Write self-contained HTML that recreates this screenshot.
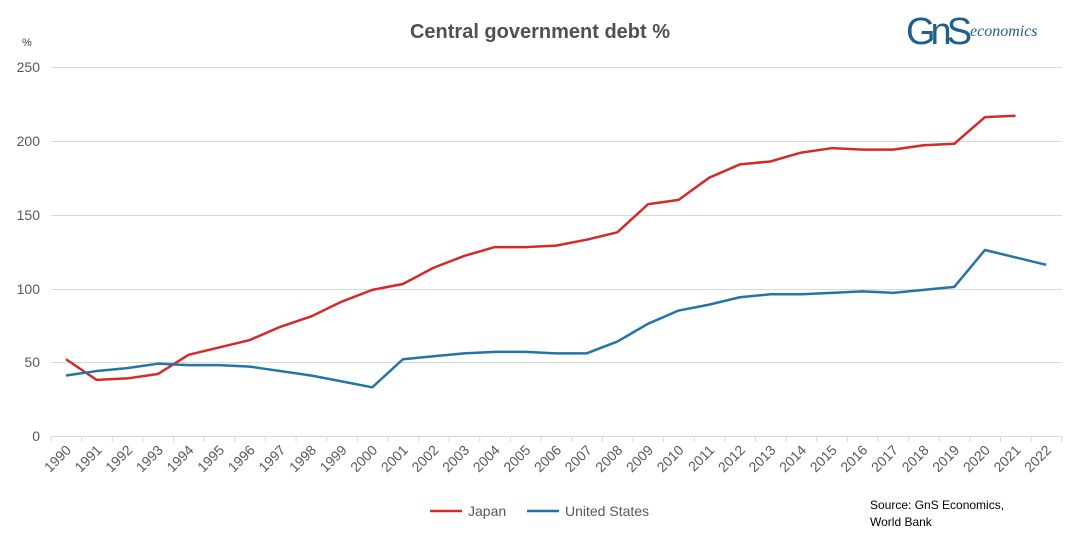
<!DOCTYPE html>
<html><head><meta charset="utf-8"><style>
body{margin:0;background:#fff;}
svg text{font-family:"Liberation Sans",sans-serif;fill:#595959;}
</style></head><body>
<svg width="1080" height="539" xmlns="http://www.w3.org/2000/svg">
<rect width="1080" height="539" fill="#fff"/>
<text x="540" y="38" text-anchor="middle" font-size="20" font-weight="bold" style="fill:#505050">Central government debt %</text>
<text x="22" y="46" font-size="11" style="fill:#404040">%</text>
<text x="906" y="44" font-size="38" style="fill:#1f5f8b;font-family:'Liberation Sans',sans-serif;letter-spacing:-5px">GnS</text>
<text x="970" y="36" font-size="16" font-style="italic" style="fill:#1f5f8b;font-family:'Liberation Serif',serif">economics</text>
<g stroke="#d9d9d9" stroke-width="1">
<line x1="51" x2="1062" y1="67.5" y2="67.5"/>
<line x1="51" x2="1062" y1="141.5" y2="141.5"/>
<line x1="51" x2="1062" y1="215.5" y2="215.5"/>
<line x1="51" x2="1062" y1="289.5" y2="289.5"/>
<line x1="51" x2="1062" y1="362.5" y2="362.5"/>
<line x1="51" x2="1062" y1="436.5" y2="436.5"/>
</g>
<g font-size="14" text-anchor="end">
<text x="40" y="72">250</text><text x="40" y="146">200</text><text x="40" y="220">150</text>
<text x="40" y="294">100</text><text x="40" y="367">50</text><text x="40" y="441">0</text>
</g>
<g id="ticks" stroke="#d9d9d9"></g>
<g id="xl" font-size="14"></g>
<polyline id="jp" fill="none" stroke="#d42a2a" stroke-width="2.5" stroke-linejoin="round"/>
<polyline id="us" fill="none" stroke="#2474a6" stroke-width="2.5" stroke-linejoin="round"/>
<line x1="430" x2="462" y1="511" y2="511" stroke="#d42a2a" stroke-width="2.5"/>
<text x="468" y="516" font-size="14">Japan</text>
<line x1="527" x2="559" y1="511" y2="511" stroke="#2474a6" stroke-width="2.5"/>
<text x="565" y="516" font-size="14">United States</text>
<text x="870" y="509" font-size="12" style="fill:#000">Source: GnS Economics,</text>
<text x="870" y="526" font-size="12" style="fill:#000">World Bank</text>
</svg>
<script>
var jp=[52,38,39,42,55,60,65,74,81,91,99,103,114,122,128,128,129,133,138,157,160,175,184,186,192,195,194,194,197,198,216,217];
var us=[41,44,46,49,48,48,47,44,41,37,33,52,54,56,57,57,56,56,64,76,85,89,94,96,96,97,98,97,99,101,126,121,116];
var X=i=>66+i*30.63, Y=v=>436-v*1.476;
document.getElementById('jp').setAttribute('points',jp.map((v,i)=>X(i)+','+Y(v)).join(' '));
document.getElementById('us').setAttribute('points',us.map((v,i)=>X(i)+','+Y(v)).join(' '));
var t='',l='';
for(var i=0;i<=33;i++){var x=51+i*30.63;t+='<line x1="'+x+'" x2="'+x+'" y1="436" y2="442"/>';}
for(var i=0;i<33;i++){var x=X(i)+6,y=451;l+='<text transform="translate('+x+','+y+') rotate(-45)" text-anchor="end">'+(1990+i)+'</text>';}
document.getElementById('ticks').innerHTML=t;document.getElementById('xl').innerHTML=l;
</script>
</body></html>
